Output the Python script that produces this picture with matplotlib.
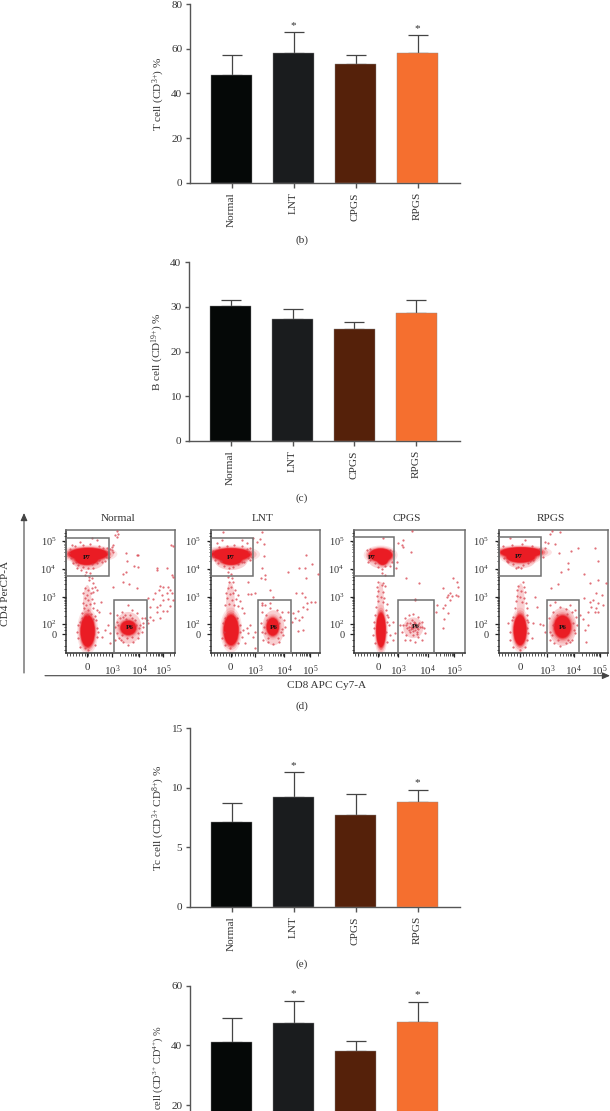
import numpy as np
import matplotlib
matplotlib.use("Agg")
import matplotlib.pyplot as plt
from matplotlib.patches import Ellipse, Rectangle

W, H = 610, 1111
plt.rcParams['font.family'] = ['Liberation Serif', 'DejaVu Serif']
plt.rcParams['mathtext.fontset'] = 'custom'
plt.rcParams['mathtext.rm'] = 'Liberation Serif'
plt.rcParams['mathtext.it'] = 'Liberation Serif'
plt.rcParams['mathtext.bf'] = 'Liberation Serif'

groups = ['Normal', 'LNT', 'CPGS', 'RPGS']
bar_colors = ['#050807', '#1a1c1e', '#55210a', '#f56f2f']

t_cell = [48.2, 58.3, 53.0, 58.0]
t_cell_top = [57.0, 67.3, 57.0, 66.0]
b_cell = [30.2, 27.2, 25.0, 28.6]
b_cell_top = [31.6, 29.6, 26.7, 31.4]
tc_cell = [7.1, 9.2, 7.75, 8.8]
tc_cell_top = [8.75, 11.3, 9.5, 9.8]
th_cell = [41.0, 47.4, 38.2, 47.8]
th_cell_top = [49.2, 54.8, 41.6, 54.5]

# Flow-cytometry events, read by eye, in channel units of each plot
normal_frame = (18, 345, 382, 15)
normal_xticks = [81, 156, 237, 309]
normal_p7 = (18, 38, 148, 153)
normal_p6 = (162, 225, 260, 382)
normal_blobs = [(85, 87, 116, 36), (80, 103, 66, 32), (83, 318, 42, 94), (205, 308, 46, 42)]
normal_haze = [(82, 235, 26, 110), (205, 308, 80, 95), (85, 105, 100, 60)]
normal_events = [
 (170,18),(165,30),(175,28),(172,35),(160,60),(155,75),(160,80),(198,85),(230,90),(235,90),(200,108),(222,122),
 (235,125),(197,140),(190,148),(290,130),(292,135),(320,128),(333,60),(338,62),(337,150),(340,155),(190,172),
 (208,178),(160,185),(230,190),(300,183),(310,185),(325,185),(298,195),(330,195),(285,205),(305,210),(320,205),
 (335,205),(265,218),(280,222),(310,225),(325,222),(338,225),(300,240),(330,242),(270,245),(292,247),(310,258),
 (320,258),(290,262),(270,275),(262,285),(280,285),(300,280),(265,295),(250,293),(255,280),(150,265),(145,300),
 (135,315),(150,325),(125,335),(165,345),(150,355),(95,160),(88,165),(100,175),(75,190),(85,195),(95,190),
 (105,185),(70,205),(80,210),(92,205),(100,200),(110,195),(75,220),(85,225),(97,222),(68,235),(78,240),(90,238),
 (102,235),(122,230),(72,250),(85,255),(98,250),(110,255),(65,265),(80,270),(92,268),(105,272),(118,262),(40,115),
 (55,120),(70,125),(85,130),(95,118),(110,115),(125,112),(62,135),(78,140),(90,145),(50,128),(100,130),(35,60),
 (95,40),(110,45),(60,50),(140,70),(150,72),(155,65),(148,95),(145,100),(170,270),(185,262),(205,240),(215,255),
 (230,265),(245,280),(172,290),(165,305),(170,325),(178,340),(190,350),(205,360),(220,350),(235,340),(245,320),
 (250,305),(180,280),(195,270),(225,285),(240,300),(235,325),(185,330),(200,340),(215,335),(190,275),(210,270),
 (55,300),(110,310),(112,335),(55,340),(60,365),(105,360),(85,375),(75,368),(30,72),(28,85),(33,100),(140,82),
 (138,96),(45,62),(70,60),(90,58),(118,62),(130,68),(48,110),(118,105),(135,108),(75,150),(88,155),(60,290),
 (108,285),(52,320),(115,320),(65,280),(100,282),(175,300),(182,345),(228,300),(238,310),(198,282),(216,280)]

lnt_frame = (16, 345, 382, 15)
lnt_xticks = [77, 150, 237, 315]
lnt_p7 = (16, 38, 145, 153)
lnt_p6 = (160, 225, 257, 382)
lnt_blobs = [(78, 88, 116, 36), (78, 104, 62, 30), (78, 315, 44, 90), (203, 305, 36, 52)]
lnt_haze = [(76, 235, 26, 130), (205, 308, 66, 105), (78, 105, 100, 60)]
lnt_events = [
 (55,22),(170,22),(145,40),(155,50),(178,58),(165,42),(178,92),(172,128),(180,150),(167,160),(180,162),(250,140),
 (283,128),(300,130),(320,118),(303,160),(303,90),(340,148),(195,195),(205,215),(272,203),(290,205),(300,215),
 (170,235),(180,240),(150,205),(130,207),(138,208),(130,172),(305,235),(318,232),(330,232),(295,245),(305,252),
 (280,258),(265,265),(290,275),(282,285),(270,280),(250,262),(260,290),(295,315),(278,318),(150,320),(135,300),
 (125,310),(115,315),(145,335),(120,355),(128,325),(110,250),(118,265),(70,155),(82,158),(72,170),(85,172),
 (78,185),(68,190),(90,195),(62,205),(75,208),(85,205),(98,210),(65,220),(80,225),(92,222),(105,228),(60,240),
 (72,238),(88,240),(100,242),(35,55),(50,45),(110,45),(125,55),(135,70),(140,95),(135,105),(40,115),(58,122),
 (72,130),(85,125),(100,118),(118,112),(70,140),(78,148),(170,262),(182,270),(195,250),(215,255),(232,262),
 (168,295),(172,320),(175,345),(188,352),(205,358),(222,350),(235,330),(240,305),(238,285),(225,275),(170,240),
 (195,235),(55,295),(105,300),(110,335),(52,340),(60,360),(100,355),(75,368),(150,370),(25,78),(24,92),(30,105),
 (132,80),(128,100),(42,65),(65,62),(88,60),(112,62),(125,72),(48,108),(112,110),(185,285),(222,295),(180,325),
 (228,320),(190,340),(218,340),(60,280),(95,278),(58,320),(105,320),(178,305),(232,312)]

cpgs_frame = (12, 345, 382, 15)
cpgs_xticks = [84, 144, 233, 313]
cpgs_p7 = (12, 37, 132, 153)
cpgs_p6 = (145, 225, 253, 382)
cpgs_blobs = [(92, 90, 68, 38), (98, 102, 32, 34), (93, 315, 28, 102)]
cpgs_haze = [(92, 235, 20, 130), (190, 308, 60, 62), (92, 100, 78, 60)]
cpgs_events = [
 (145,55),(158,45),(155,60),(160,65),(185,18),(183,82),(168,160),(207,173),(195,222),(280,190),(300,205),(310,160),
 (320,170),(325,185),(290,215),(295,210),(305,212),(318,210),(325,212),(300,225),(285,240),(280,250),(295,265),
 (283,283),(260,240),(258,260),(280,310),(140,110),(138,130),(130,290),(135,325),(130,345),(95,145),(105,150),
 (85,170),(100,175),(82,185),(95,180),(105,182),(85,198),(98,200),(82,212),(92,215),(102,218),(85,228),(98,230),
 (110,238),(78,245),(108,255),(115,275),(118,300),(120,330),(112,350),(72,290),(70,330),(75,355),(50,75),(60,72),
 (120,75),(128,78),(125,110),(120,122),(75,115),(85,125),(105,122),(60,105),(95,132),(100,40),(55,112),
 (165,280),(178,270),(190,268),(205,275),(215,290),(222,310),(225,325),(205,335),(215,345),(195,350),(180,345),
 (168,330),(160,300),(170,310),(180,295),(185,285),(195,295),(205,300),(180,320),(190,330),(200,320),(172,295),
 (190,310),(195,305),(185,300),(178,305),(200,310),(188,318),(205,312),(192,290),(210,305),(182,312),(150,300),
 (155,320),(165,345),(195,225),(186,308),(192,298),(198,302),(182,305),(194,315),(176,315),(208,295),(200,328),
 (168,300),(215,305),(110,290),(108,320),(75,270),(72,310),(112,270)]

rpgs_frame = (25, 355, 382, 15)
rpgs_xticks = [90, 171, 252, 330]
rpgs_p7 = (25, 36, 153, 152)
rpgs_p6 = (170, 225, 268, 382)
rpgs_blobs = [(93, 82, 124, 30), (92, 96, 84, 32), (90, 315, 38, 90), (218, 305, 50, 66)]
rpgs_haze = [(92, 235, 24, 120), (218, 305, 84, 115), (92, 105, 90, 50)]
rpgs_events = [
 (185,18),(180,28),(210,22),(165,50),(175,55),(195,58),(207,85),(243,78),(265,70),(315,68),(326,108),(235,115),
 (235,132),(212,140),(283,147),(203,178),(183,190),(300,175),(325,165),(350,175),(318,205),(338,210),(283,220),
 (300,232),(310,225),(325,235),(340,240),(305,245),(320,250),(295,262),(315,262),(325,262),(280,282),(270,270),
 (295,300),(285,315),(290,352),(135,215),(142,245),(115,290),(130,295),(150,298),(160,300),(125,340),(165,320),
 (98,172),(85,182),(102,185),(80,195),(92,198),(105,200),(80,212),(90,215),(102,218),(78,228),(95,232),(108,235),
 (75,248),(110,250),(112,270),(70,275),(60,40),(105,45),(165,70),(160,95),(55,110),(70,118),(85,125),(100,120),
 (115,115),(78,130),(92,128),(180,240),(195,232),(210,245),(240,240),(255,255),(190,262),(178,280),(180,320),
 (180,345),(192,355),(210,362),(228,355),(245,345),(255,325),(262,300),(258,275),(245,262),(228,252),(240,350),
 (55,295),(112,310),(110,345),(60,345),(70,365),(105,365),(90,375),(40,62),(65,60),(95,58),(125,62),(148,72),
 (42,100),(50,108),(130,105),(120,108),(200,270),(232,268),(188,300),(186,330),(250,295),(252,315),(205,345),
 (235,345),(65,285),(110,285),(60,320),(115,325)]

gate_label_pos = [((80, 96), (208, 306)), ((78, 98), (207, 307)), ((65, 97), (197, 305)), ((85, 95), (218, 306))]
y_major = [48, 132, 216, 297, 327]
y_major_labels = ['$10^5$', '$10^4$', '$10^3$', '$10^2$', '0']
x_major_labels = ['0', '$10^3$', '$10^4$', '$10^5$']

fig = plt.figure(figsize=(W / 100, H / 100), dpi=100, facecolor='white')
TXT = '#333333'
AX = '#555555'
FS = 8.1
FLOW_FS = 7.4


def box(l, t, r, b):
    return [l / W, 1 - b / H, (r - l) / W, (b - t) / H]


def bar_panel(vals, tops, ymax, yticks, label, left, top, bottom, stars, xlabels=True):
    ax = fig.add_axes(box(left, top, 460, bottom))
    x = np.arange(4)
    spacing = 62
    first = left + 41.5
    ax.set_xlim((left - first) / spacing, (460 - first) / spacing)
    ax.set_ylim(0, ymax)
    err = np.array(tops) - np.array(vals)
    ax.errorbar(x, vals, yerr=[np.zeros(4), err], fmt='none', ecolor='#444444',
                elinewidth=0.9, capsize=7.4, capthick=0.9, zorder=2)
    ax.bar(x, vals, width=0.66, color=bar_colors, zorder=3,
           edgecolor='#8a8a8a', linewidth=0.3)
    for s, xi, t in zip(stars, x, tops):
        if s:
            ax.annotate('*', (xi, t), xytext=(0, 1.8), textcoords='offset points',
                        ha='center', va='bottom', fontsize=FS, color=TXT, clip_on=False)
    for s in ('top', 'right'):
        ax.spines[s].set_visible(False)
    for s in ('left', 'bottom'):
        ax.spines[s].set_color(AX)
        ax.spines[s].set_linewidth(1.0)
    ax.set_xticks(x)
    if xlabels:
        ax.set_xticklabels(groups, rotation=90, fontsize=FS, color=TXT)
    else:
        ax.set_xticklabels([])
    ax.set_yticks(yticks)
    ax.tick_params(axis='y', labelsize=FS, labelcolor=TXT, color=AX, length=3, width=1, pad=2.5)
    ax.tick_params(axis='x', color=AX, length=3.6, width=1, pad=3)
    if label:
        ax.set_ylabel(label, fontsize=FS, color=TXT, labelpad=3)
    ax.patch.set_alpha(0)
    return ax


bar_panel(t_cell, t_cell_top, 80, [0, 20, 40, 60, 80], 'T cell (CD$^{3{+}}$) %', 190, 4, 183, [0, 1, 0, 1])
bar_panel(b_cell, b_cell_top, 40, [0, 10, 20, 30, 40], 'B cell (CD$^{19{+}}$) %', 189, 262, 441, [0, 0, 0, 0])
bar_panel(tc_cell, tc_cell_top, 15, [0, 5, 10, 15], 'Tc cell (CD$^{3{+}}$ CD$^{8{+}}$) %', 190, 728, 907, [0, 1, 0, 1])
bar_panel(th_cell, th_cell_top, 60, [20, 40, 60], '', 190, 985.5, 1165, [0, 1, 0, 1], xlabels=False)
fig.text(158 / W, 1 - 1025 / H, 'cell (CD$^{3{+}}$ CD$^{4{+}}$) %', rotation=90, ha='center', va='top',
         fontsize=7.5, color=TXT)

for txt, yy in zip(['(b)', '(c)', '(d)', '(e)'], [240, 498, 706, 964]):
    fig.text(302 / W, 1 - yy / H, txt, ha='center', va='center', fontsize=FS, color=TXT)


def log_minors(majors):
    out = []
    for a, b in zip(majors[:-1], majors[1:]):
        out += [a + (b - a) * np.log10(k) for k in range(2, 10)]
    return out


def flow_panel(l, r, title, frame, xmaj, p7, p6, blobs, haze, events, gate_pos):
    ax = fig.add_axes(box(l, 530, r, 652.5))
    ax.set_xlim(frame[0], frame[1])
    ax.set_ylim(frame[2], frame[3])
    for cx, cy, w, h in haze:
        ax.add_patch(Ellipse((cx, cy), w, h, color='#f0747a', alpha=0.34, lw=0, zorder=1))
    for scale, alpha in [(1.5, 0.12), (1.32, 0.2), (1.18, 0.35), (1.08, 0.55), (1.0, 1.0)]:
        for cx, cy, w, h in blobs:
            ax.add_patch(Ellipse((cx, cy), w * scale, h * scale, color='#ea1c24', alpha=alpha, lw=0, zorder=2))
    ev = np.array(events)
    ax.scatter(ev[:, 0], ev[:, 1], s=2.6, color='#d8404c', alpha=0.75, lw=0, zorder=3)
    for (x0, y0, x1, y1) in (p7, p6):
        ax.add_patch(Rectangle((x0, y0), x1 - x0, y1 - y0, fill=False, ec='#707070', lw=1.1, zorder=4, clip_on=False))
    for pos, t in zip(gate_pos, ['P7', 'P6']):
        ax.text(pos[0], pos[1], t, ha='center', va='center', fontsize=5.0, color='#111111',
                fontweight='bold', zorder=5)
    for s in ax.spines.values():
        s.set_color('#707070')
        s.set_linewidth(1.1)
    ax.spines['bottom'].set_color('#333333')
    ax.spines['left'].set_color('#333333')
    ax.set_xticks(xmaj)
    ax.set_xticklabels(x_major_labels, fontsize=FLOW_FS + 0.5, color=TXT)
    ax.set_yticks(y_major)
    ax.set_yticklabels(y_major_labels, fontsize=FLOW_FS, color=TXT)
    xminor = log_minors(xmaj[1:]) + [v for v in range(frame[0] + 3, xmaj[1], 9)] + \
        [xmaj[-1] + (xmaj[-1] - xmaj[-2]) * np.log10(k) for k in (2, 3)]
    yminor = log_minors(y_major[3::-1]) + [24, 32, 306, 316, 345, 362, 376]
    ax.set_xticks([v for v in xminor if frame[0] <= v <= frame[1]], minor=True)
    ax.set_yticks(yminor, minor=True)
    ax.tick_params(which='major', length=3.0, width=0.9, color='#222222')
    ax.tick_params(axis='x', which='major', pad=4.5)
    ax.tick_params(axis='y', which='major', pad=4.0)
    ax.tick_params(which='minor', length=1.8, width=0.6, color='#333333')
    ax.set_title(title, fontsize=FS, color=TXT, pad=6.5, x=0.478)


flow_panel(66, 175, groups[0], normal_frame, normal_xticks, normal_p7, normal_p6, normal_blobs, normal_haze, normal_events, gate_label_pos[0])
flow_panel(210.5, 320, groups[1], lnt_frame, lnt_xticks, lnt_p7, lnt_p6, lnt_blobs, lnt_haze, lnt_events, gate_label_pos[1])
flow_panel(354, 465, groups[2], cpgs_frame, cpgs_xticks, cpgs_p7, cpgs_p6, cpgs_blobs, cpgs_haze, cpgs_events, gate_label_pos[2])
flow_panel(498.5, 608, groups[3], rpgs_frame, rpgs_xticks, rpgs_p7, rpgs_p6, rpgs_blobs, rpgs_haze, rpgs_events, gate_label_pos[3])

overlay = fig.add_axes([0, 0, 1, 1], zorder=-1)
overlay.set_xlim(0, W)
overlay.set_ylim(H, 0)
overlay.axis('off')
overlay.annotate('', xy=(24, 513), xytext=(24, 673),
                 arrowprops=dict(arrowstyle='-|>,head_width=0.2,head_length=0.45', color='#444444', lw=0.8, shrinkA=0, shrinkB=0))
overlay.annotate('', xy=(610, 675.7), xytext=(45, 675.7),
                 arrowprops=dict(arrowstyle='-|>,head_width=0.2,head_length=0.45', color='#444444', lw=0.8, shrinkA=0, shrinkB=0))
overlay.text(6, 593, 'CD4 PerCP-A', rotation=90, ha='center', va='center', fontsize=FS, color=TXT)
overlay.text(327, 685.5, 'CD8 APC Cy7-A', ha='center', va='center', fontsize=FS, color=TXT)

fig.savefig('out.png', dpi=100, facecolor='white')
